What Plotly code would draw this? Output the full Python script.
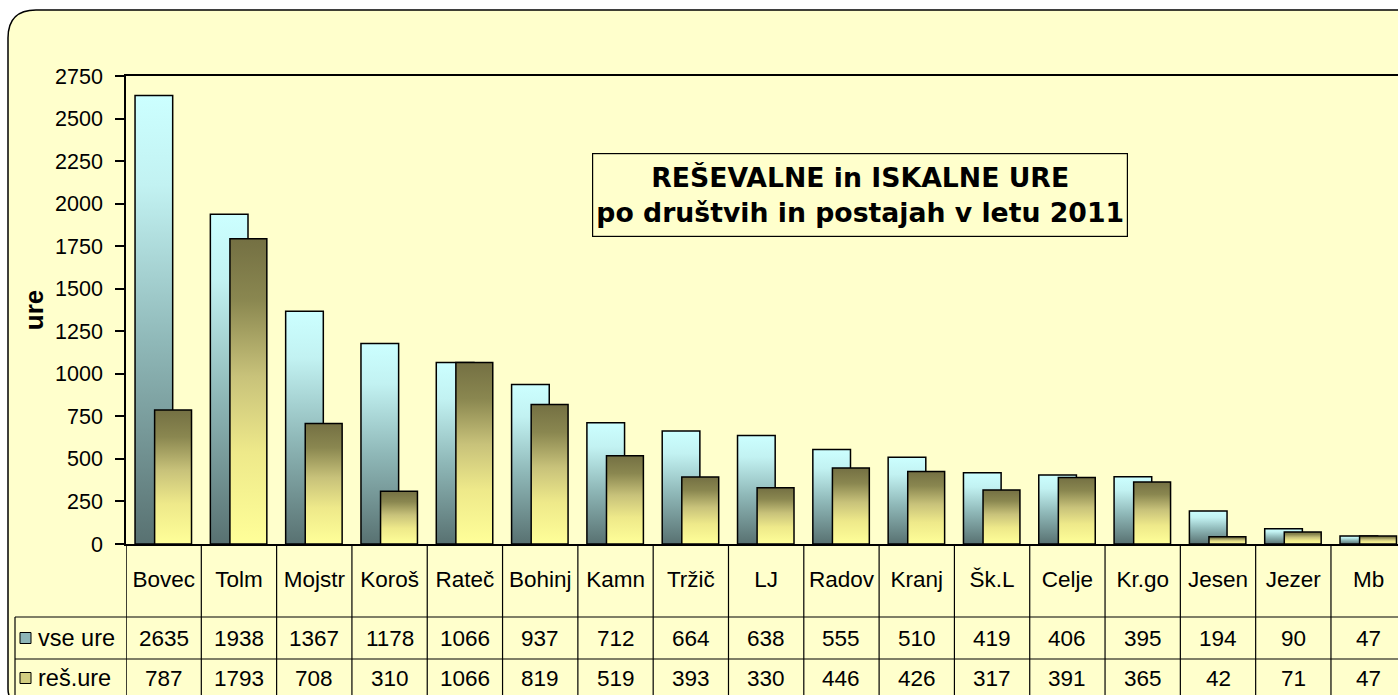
import plotly.graph_objects as go

# ---------------- data ----------------
categories = ["Bovec", "Tolm", "Mojstr", "Koroš", "Rateč", "Bohinj", "Kamn", "Tržič", "LJ",
              "Radov", "Kranj", "Šk.L", "Celje", "Kr.go", "Jesen", "Jezer", "Mb"]
vse_ure = [2635, 1938, 1367, 1178, 1066, 937, 712, 664, 638, 555, 510, 419, 406, 395, 194, 90, 47]
res_ure = [787, 1793, 708, 310, 1066, 819, 519, 393, 330, 446, 426, 317, 391, 365, 42, 71, 47]
series_names = ["vse ure", "reš.ure"]
y_ticks = [0, 250, 500, 750, 1000, 1250, 1500, 1750, 2000, 2250, 2500, 2750]
title_lines = ["REŠEVALNE in ISKALNE URE", "po društvih in postajah v letu 2011"]
y_title = "ure"

# ---------------- layout constants ----------------
W, H = 1398, 695
FONT = "Liberation Sans, Arial, sans-serif"
BG = "#FFFFCC"
TABLE_FS = 22.5


def px(x):
    return x / W


def py(y):
    return 1 - y / H


vse_scale = [[0, "#587171"], [0.45, "#8FB8B8"], [0.8, "#C2F2F2"], [1, "#CCFFFF"]]
res_scale = [[0, "#FFFF99"], [0.3, "#EEE98A"], [0.55, "#C8C27A"], [0.8, "#8A8750"], [1, "#747043"]]
series_style = [
    (vse_ure, vse_scale, -0.38, 0.12),
    (res_ure, res_scale, -0.12, 0.37),
]

fig = go.Figure()

for values, scale, o0, o1 in series_style:
    for i, v in enumerate(values):
        fig.add_trace(go.Scatter(
            x=[i + o0, i + o0, i + o1, i + o1, i + o0],
            y=[0, v, v, 0, 0],
            mode="lines",
            fill="toself",
            fillgradient=dict(type="vertical", colorscale=scale, start=0, stop=v),
            line=dict(color="black", width=1.5),
            hoverinfo="skip",
            showlegend=False,
        ))

shapes = []
# outer rounded frame
x0, y0, r = 8, 10, 28
xe, ye = W + 20, H + 8
rb = 14
path = (f"M {px(x0 + rb)},{py(ye)} Q {px(x0)},{py(ye)} {px(x0)},{py(ye - rb)} "
        f"L {px(x0)},{py(y0 + r)} "
        f"Q {px(x0)},{py(y0)} {px(x0 + r)},{py(y0)} "
        f"L {px(xe)},{py(y0)} L {px(xe)},{py(ye)} Z")
shapes.append(dict(type="path", path=path, xref="paper", yref="paper",
                   fillcolor=BG, line=dict(color="black", width=1.5), layer="below"))

plot_bottom = py(544)
# table vertical lines
for i in range(len(categories)):
    shapes.append(dict(type="line", xref="x", yref="paper", x0=i - 0.5, x1=i - 0.5,
                       y0=0, y1=plot_bottom, line=dict(color="black", width=1.5 if i == 0 else 1.2)))
# table horizontal lines
for yy in (617, 659):
    shapes.append(dict(type="line", xref="paper", yref="paper", x0=px(15), x1=1,
                       y0=py(yy), y1=py(yy), line=dict(color="black", width=1.2)))
# left border of row header column
shapes.append(dict(type="line", xref="paper", yref="paper", x0=px(15), x1=px(15),
                   y0=0, y1=py(617), line=dict(color="black", width=1.2)))

annotations = []
row_y = [638, 678]
key_colors = ["#8DB5B7", "#D2CD80"]
for r_i, (name, values) in enumerate(zip(series_names, [vse_ure, res_ure])):
    yc = row_y[r_i]
    for i, v in enumerate(values):
        annotations.append(dict(x=i, y=py(yc), xref="x", yref="paper", text=str(v),
                                showarrow=False, font=dict(family=FONT, size=TABLE_FS, color="black"),
                                xanchor="center", yanchor="middle"))
    annotations.append(dict(x=px(36), y=py(yc), xref="paper", yref="paper", text=name,
                            showarrow=False, font=dict(family=FONT, size=23.5, color="black"),
                            xanchor="left", yanchor="middle"))
    shapes.append(dict(type="rect", xref="paper", yref="paper",
                       x0=px(20), x1=px(31), y0=py(yc + 5.5), y1=py(yc - 5.5),
                       fillcolor=key_colors[r_i], line=dict(color="black", width=1)))

# title box
annotations.append(dict(
    x=px(860), y=py(195), xref="paper", yref="paper",
    text="<b>" + "<br>".join(title_lines) + "</b>",
    showarrow=False, font=dict(family="DejaVu Sans, Verdana, sans-serif", size=26.7, color="black"),
    bgcolor=BG, bordercolor="black", borderwidth=1.2,
    width=532, height=80, xanchor="center", yanchor="middle", align="center",
))

fig.update_layout(
    width=W, height=H,
    margin=dict(l=0, r=0, t=0, b=0, autoexpand=False),
    paper_bgcolor="white",
    plot_bgcolor="white",
    showlegend=False,
    shapes=shapes,
    annotations=annotations,
    xaxis=dict(
        domain=[px(126), 1],
        range=[-0.5, 16.39],
        tickvals=list(range(len(categories))),
        ticktext=categories,
        ticks="",
        automargin=False,
        showgrid=False, zeroline=False,
        showline=True, mirror=True, linecolor="black", linewidth=1.5,
        tickfont=dict(family=FONT, size=TABLE_FS, color="black"),
        ticklabelstandoff=14,
    ),
    yaxis=dict(
        domain=[py(544), py(76)],
        range=[0, 2750],
        tickvals=y_ticks,
        automargin=False,
        ticks="outside", ticklen=9, tickwidth=1.5, tickcolor="black",
        ticklabelstandoff=8,
        showgrid=False, zeroline=False,
        showline=True, linecolor="black", linewidth=1.5,
        tickfont=dict(family=FONT, size=21.5, color="black"),
        title=dict(text="<b>" + y_title + "</b>", font=dict(family=FONT, size=26, color="black"), standoff=4),
    ),
)

fig.write_html(
    "out.html",
    config={"displayModeBar": False},
    post_script="document.body.style.margin='0';document.body.style.overflow='hidden';",
)
